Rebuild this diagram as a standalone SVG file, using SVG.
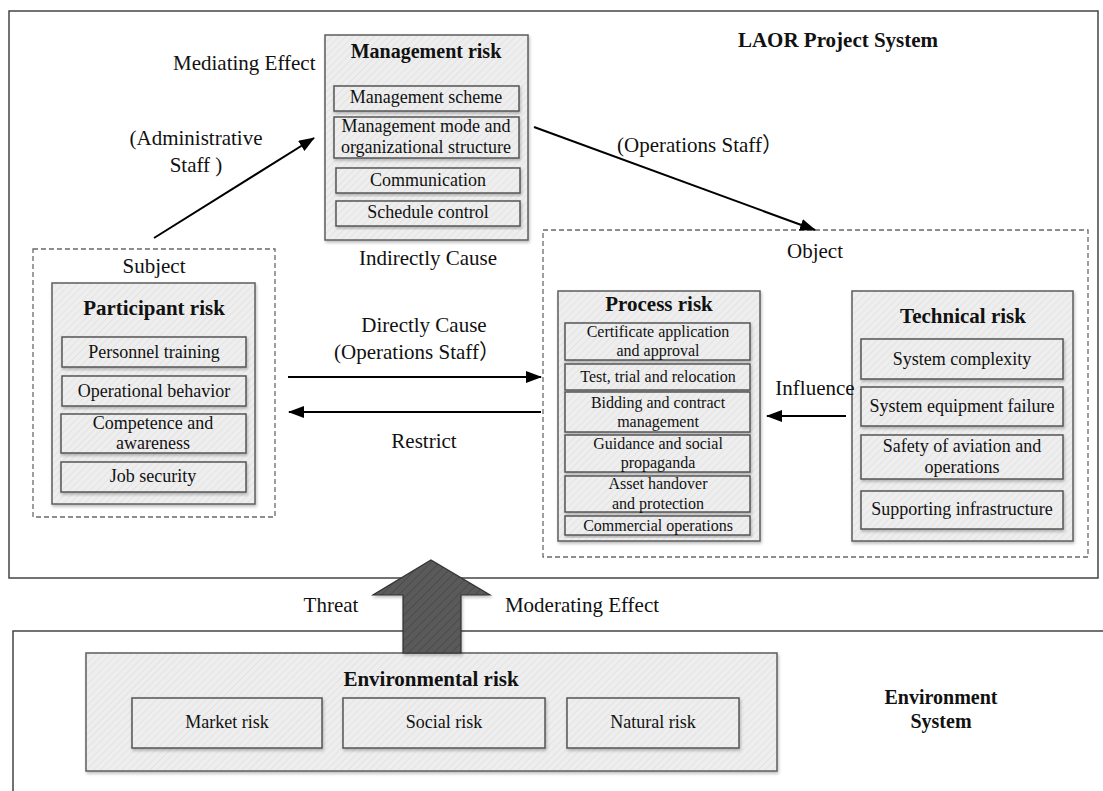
<svg xmlns="http://www.w3.org/2000/svg" width="1103" height="791" viewBox="0 0 1103 791">
<style>
text{font-family:"Liberation Serif","Times New Roman","Noto Sans CJK SC",serif;fill:#111;text-anchor:middle}
.lbl{font-size:21px}
.ttl{font-size:21px;font-weight:bold}
.sub{font-size:18px}
.sm{font-size:16px}
.box{fill:url(#hatch);stroke:#5e5e5e;stroke-width:1.5;filter:url(#sh)}
.sbox{fill:url(#hatch);stroke:#555;stroke-width:1.5;filter:url(#sh)}
.dash{fill:none;stroke:#6a6a6a;stroke-width:1.3;stroke-dasharray:5 3}
.conn{stroke:#000;stroke-width:2;fill:none;marker-end:url(#ah)}
.frame{fill:none;stroke:#444;stroke-width:1.5}
</style>
<defs>
<pattern id="hatch" width="5" height="5" patternUnits="userSpaceOnUse" patternTransform="rotate(45)">
<rect width="5" height="5" fill="#eeeeee"/>
<line x1="0" y1="0" x2="0" y2="5" stroke="#e3e3e3" stroke-width="2"/>
</pattern>
<pattern id="dhatch" width="6" height="6" patternUnits="userSpaceOnUse" patternTransform="rotate(45)">
<rect width="6" height="6" fill="#5a5a5a"/>
<line x1="0" y1="0" x2="0" y2="6" stroke="#4c4c4c" stroke-width="2"/>
</pattern>
<filter id="sh" x="-10%" y="-10%" width="120%" height="125%">
<feDropShadow dx="1" dy="2" stdDeviation="1.5" flood-color="#000" flood-opacity="0.25"/>
</filter>
<marker id="ah" markerWidth="16" markerHeight="12" refX="15" refY="6" orient="auto" markerUnits="userSpaceOnUse">
<path d="M0,0 L16,6 L0,12 Z" fill="#000"/>
</marker>
</defs>
<rect width="1103" height="791" fill="#fff"/>

<g id="laor-system">
<rect class="frame" x="9" y="11" width="1089" height="567"/>
<text class="ttl" x="838" y="47">LAOR Project System</text>
</g>

<g id="environment-system">
<path class="frame" d="M1103,631 L13,631 L13,791"/>
<text class="ttl" x="941" y="704" style="font-size:20px">Environment</text>
<text class="ttl" x="941" y="728" style="font-size:20px">System</text>
</g>

<g id="management-risk">
<rect class="box" x="325" y="35" width="203" height="205"/>
<text class="ttl" x="426" y="58" style="font-size:20px">Management risk</text>
<rect class="sbox" x="334" y="86" width="185" height="25"/>
<text class="sub" x="426" y="103">Management scheme</text>
<rect class="sbox" x="334" y="117" width="185" height="41"/>
<text class="sub" x="426" y="132">Management mode and</text>
<text class="sub" x="426" y="153">organizational structure</text>
<rect class="sbox" x="336" y="168" width="184" height="25"/>
<text class="sub" x="428" y="186">Communication</text>
<rect class="sbox" x="336" y="201" width="184" height="25"/>
<text class="sub" x="428" y="218">Schedule control</text>
</g>

<g id="subject">
<rect class="dash" x="33" y="249" width="242" height="268"/>
<text class="lbl" x="154" y="273">Subject</text>
</g>

<g id="participant-risk">
<rect class="box" x="52" y="283" width="203" height="221"/>
<text class="ttl" x="154" y="315">Participant risk</text>
<rect class="sbox" x="62" y="337" width="184" height="30"/>
<text class="sub" x="154" y="358">Personnel training</text>
<rect class="sbox" x="62" y="376" width="184" height="30"/>
<text class="sub" x="154" y="397">Operational behavior</text>
<rect class="sbox" x="61" y="414" width="185" height="39"/>
<text class="sub" x="153" y="429">Competence and</text>
<text class="sub" x="153" y="449">awareness</text>
<rect class="sbox" x="61" y="462" width="185" height="30"/>
<text class="sub" x="153" y="482">Job security</text>
</g>

<g id="object">
<rect class="dash" x="543" y="230" width="545" height="327"/>
<text class="lbl" x="815" y="258">Object</text>
</g>

<g id="process-risk">
<rect class="box" x="558" y="291" width="202" height="250"/>
<text class="ttl" x="659" y="311">Process risk</text>
<rect class="sbox" x="565" y="323" width="185" height="37"/>
<text class="sm" x="658" y="337">Certificate application</text>
<text class="sm" x="658" y="356">and approval</text>
<rect class="sbox" x="565" y="364" width="185" height="26"/>
<text class="sm" x="658" y="382">Test, trial and relocation</text>
<rect class="sbox" x="565" y="392" width="185" height="40"/>
<text class="sm" x="658" y="408">Bidding and contract</text>
<text class="sm" x="658" y="427">management</text>
<rect class="sbox" x="565" y="435" width="185" height="37"/>
<text class="sm" x="658" y="449">Guidance and social</text>
<text class="sm" x="658" y="468">propaganda</text>
<rect class="sbox" x="565" y="476" width="185" height="36"/>
<text class="sm" x="658" y="489">Asset handover</text>
<text class="sm" x="658" y="509">and protection</text>
<rect class="sbox" x="565" y="516" width="185" height="19"/>
<text class="sm" x="658" y="531">Commercial operations</text>
</g>

<g id="technical-risk">
<rect class="box" x="852" y="291" width="221" height="250"/>
<text class="ttl" x="963" y="323">Technical risk</text>
<rect class="sbox" x="861" y="339" width="202" height="40"/>
<text class="sub" x="962" y="365">System complexity</text>
<rect class="sbox" x="861" y="387" width="202" height="39"/>
<text class="sub" x="962" y="412">System equipment failure</text>
<rect class="sbox" x="861" y="435" width="202" height="44"/>
<text class="sub" x="962" y="452">Safety of aviation and</text>
<text class="sub" x="962" y="473">operations</text>
<rect class="sbox" x="861" y="491" width="202" height="38"/>
<text class="sub" x="962" y="515">Supporting infrastructure</text>
</g>

<g id="environmental-risk">
<rect class="box" x="86" y="653" width="691" height="118"/>
<text class="ttl" x="431" y="686">Environmental risk</text>
<rect class="sbox" x="132" y="698" width="190" height="50"/>
<text class="sub" x="227" y="728">Market risk</text>
<rect class="sbox" x="343" y="698" width="202" height="50"/>
<text class="sub" x="444" y="728">Social risk</text>
<rect class="sbox" x="567" y="698" width="172" height="50"/>
<text class="sub" x="653" y="728">Natural risk</text>
</g>

<g id="connectors">
<line class="conn" x1="154" y1="238" x2="314" y2="138"/>
<line class="conn" x1="534" y1="127" x2="815" y2="230"/>
<line class="conn" x1="288" y1="377" x2="541" y2="377"/>
<line class="conn" x1="541" y1="412" x2="289" y2="412"/>
<line class="conn" x1="846" y1="416" x2="767" y2="416"/>
<path d="M431,560 L490,595 L461,595 L461,653 L403,653 L403,595 L373,595 Z" fill="url(#dhatch)" stroke="#333" stroke-width="1.2" filter="url(#sh)"/>
<text class="lbl" x="173" y="70" style="text-anchor:start">Mediating Effect</text>
<text class="lbl" x="196" y="145">(Administrative</text>
<text class="lbl" x="196" y="172">Staff )</text>
<text class="lbl" x="700" y="152">(Operations Staff）</text>
<text class="lbl" x="428" y="265">Indirectly Cause</text>
<text class="lbl" x="424" y="332">Directly Cause</text>
<text class="lbl" x="417" y="359">(Operations Staff）</text>
<text class="lbl" x="424" y="448">Restrict</text>
<text class="lbl" x="815" y="395">Influence</text>
<text class="lbl" x="331" y="612">Threat</text>
<text class="lbl" x="582" y="612">Moderating Effect</text>
</g>
</svg>
